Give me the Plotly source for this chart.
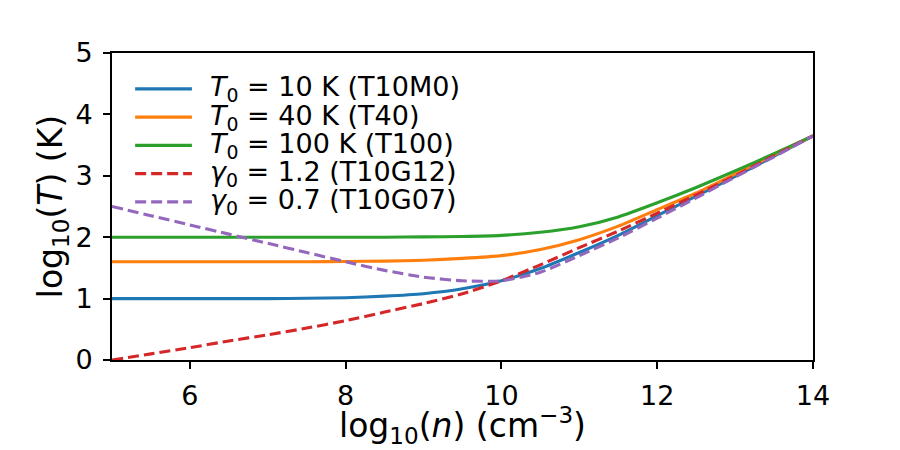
import plotly.graph_objects as go

# log10(n) sample points
log_n = [5.0, 5.5, 6.0, 6.5, 7.0, 7.5, 8.0, 8.5, 9.0, 9.5, 10.0, 10.5, 11.0, 11.5, 12.0, 12.5, 13.0, 13.5, 14.0]

# log10(T)
t10m0 = [1.00, 1.00, 1.00, 1.00, 1.00, 1.005, 1.015, 1.04, 1.08, 1.16, 1.29, 1.49, 1.75, 2.03, 2.35, 2.67, 2.99, 3.32, 3.65]
t40 = [1.60, 1.60, 1.60, 1.60, 1.60, 1.60, 1.605, 1.61, 1.625, 1.655, 1.70, 1.80, 1.96, 2.18, 2.45, 2.72, 3.03, 3.34, 3.65]
t100 = [2.00, 2.00, 2.00, 2.00, 2.00, 2.00, 2.00, 2.00, 2.005, 2.012, 2.03, 2.08, 2.17, 2.33, 2.56, 2.81, 3.08, 3.36, 3.65]
t10g12 = [0.00, 0.10, 0.20, 0.31, 0.41, 0.52, 0.64, 0.78, 0.92, 1.08, 1.29, 1.55, 1.83, 2.10, 2.39, 2.69, 3.00, 3.33, 3.65]
t10g07 = [2.50, 2.35, 2.20, 2.05, 1.90, 1.75, 1.60, 1.46, 1.35, 1.29, 1.29, 1.43, 1.70, 1.99, 2.31, 2.64, 2.98, 3.31, 3.65]

labels = [
    "<i>T</i><sub>0</sub> = 10 K (T10M0)",
    "<i>T</i><sub>0</sub> = 40 K (T40)",
    "<i>T</i><sub>0</sub> = 100 K (T100)",
    "<i>γ</i><sub>0</sub> = 1.2 (T10G12)",
    "<i>γ</i><sub>0</sub> = 0.7 (T10G07)",
]
series = [t10m0, t40, t100, t10g12, t10g07]
colors = ["#1f77b4", "#ff7f0e", "#2ca02c", "#d62728", "#9467bd"]
dashes = ["solid", "solid", "solid", "11px,5px", "11px,5px"]

x_ticks = [6, 8, 10, 12, 14]
y_ticks = [0, 1, 2, 3, 4, 5]

x_title = "log<sub>10</sub>(<i>n</i>) (cm<sup>−3</sup>)"
y_title = "log<sub>10</sub>(<i>T</i>) (K)"

font_family = "DejaVu Sans"
LW = 3.1

fig = go.Figure()
for name, ys, c, d in zip(labels, series, colors, dashes):
    fig.add_trace(go.Scatter(
        x=log_n, y=ys, mode="lines", name=name, showlegend=False,
        line=dict(color=c, width=LW, dash=d, shape="spline", smoothing=0.6),
    ))

# Matplotlib-style legend (no frame), built in paper coordinates
leg_x0, leg_x1, leg_tx = 0.033, 0.114, 0.137
leg_y0, leg_dy = 0.883, 0.092
shapes = []
annotations = []
for i, (name, c, d) in enumerate(zip(labels, colors, dashes)):
    yy = leg_y0 - i * leg_dy
    shapes.append(dict(type="line", xref="paper", yref="paper",
                       x0=leg_x0, x1=leg_x1, y0=yy, y1=yy,
                       line=dict(color=c, width=LW, dash=d)))
    annotations.append(dict(xref="paper", yref="paper", x=leg_tx, y=yy,
                            xanchor="left", yanchor="middle", showarrow=False,
                            text=name, font=dict(size=27, family=font_family, color="black")))

# x-axis title as an annotation just below the tick labels
annotations.append(dict(xref="paper", yref="paper", x=0.5, y=0,
                        xanchor="center", yanchor="top", yshift=-40,
                        showarrow=False, text=x_title,
                        font=dict(size=33, family=font_family, color="black")))

fig.update_layout(
    width=900, height=450,
    margin=dict(l=112, r=87, t=53, b=90),
    paper_bgcolor="white", plot_bgcolor="white",
    font=dict(family=font_family, color="black", size=27),
    showlegend=False,
    shapes=shapes,
    annotations=annotations,
    xaxis=dict(
        range=[5, 14], tickvals=x_ticks, ticktext=[str(v) for v in x_ticks],
        showgrid=False, zeroline=False, showline=True, mirror=True,
        linecolor="black", linewidth=1.7, ticks="outside", ticklen=7,
        tickwidth=1.7, tickcolor="black", tickfont=dict(size=27),
        ticklabelstandoff=4, automargin=False,
    ),
    yaxis=dict(
        range=[0, 5], tickvals=y_ticks, ticktext=[str(v) for v in y_ticks],
        showgrid=False, zeroline=False, showline=True, mirror=True,
        linecolor="black", linewidth=1.7, ticks="outside", ticklen=7,
        tickwidth=1.7, tickcolor="black", tickfont=dict(size=27),
        ticklabelstandoff=5,
        title=dict(text=y_title, font=dict(size=33), standoff=3),
    ),
)

fig.write_html("out.html")
